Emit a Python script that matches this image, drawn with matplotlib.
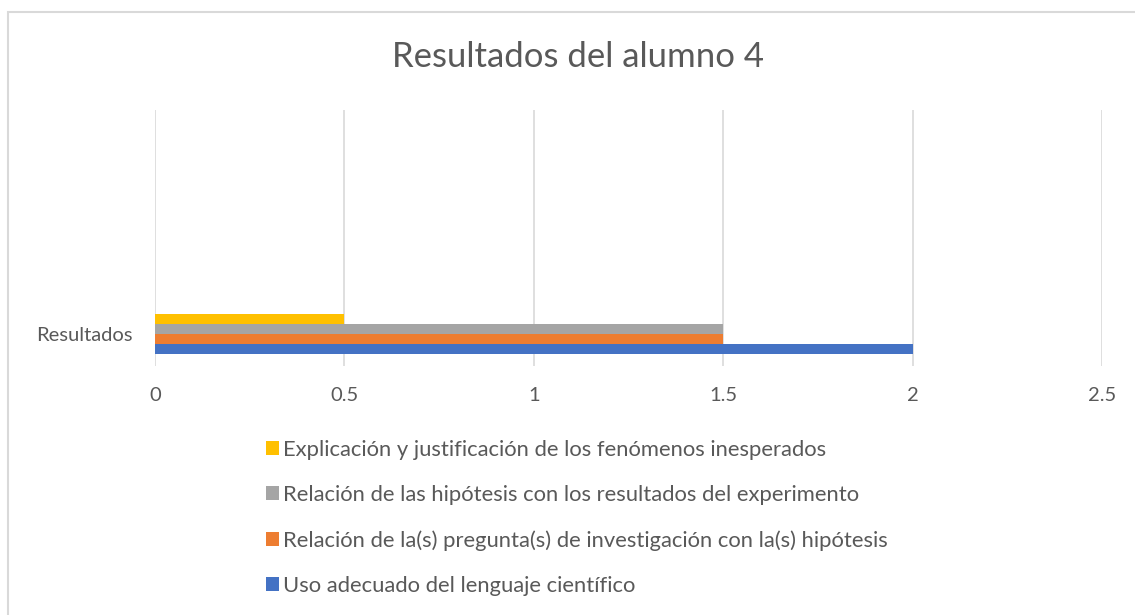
"""Resultados del alumno 4 - horizontal clustered bar chart."""

import matplotlib
matplotlib.use("Agg")
import matplotlib.pyplot as plt
from matplotlib.patches import Rectangle

# data
category = "Resultados"
series_names = [
    "Uso adecuado del lenguaje científico",
    "Relación de la(s) pregunta(s) de investigación con la(s) hipótesis",
    "Relación de las hipótesis con los resultados del experimento",
    "Explicación y justificación de los fenómenos inesperados",
]
series_values = [2.0, 1.5, 1.5, 0.5]
series_colors = ["#4472C4", "#ED7D31", "#A5A5A5", "#FFC000"]
x_ticks = [0, 0.5, 1, 1.5, 2, 2.5]
x_tick_labels = ["0", "0.5", "1", "1.5", "2", "2.5"]

TEXT = "#595959"
plt.rcParams["font.family"] = ["Lato", "DejaVu Sans"]

W, H = 1135, 615
fig = plt.figure(figsize=(W / 100, H / 100), dpi=100)

# chart border (only top / left visible in the crop)
fig.patches.append(Rectangle((8 / W, -0.1), 1.2, 1.1 - 12 / H,
                             transform=fig.transFigure, fill=False,
                             edgecolor="#d9d9d9", linewidth=1.5))

ax = fig.add_axes([155 / W, 1 - 366 / H, (1102 - 155) / W, (366 - 110) / H])

bar_h = 0.2
bars = []
for i, (name, v, c) in enumerate(zip(series_names, series_values, series_colors)):
    y = (i - 1.5) * bar_h
    b = ax.barh(y, v, height=bar_h, color=c, label=name, zorder=3)
    bars.append(b)

ax.set_xlim(0, 2.5)
ax.set_ylim(-0.64, 4.48)
ax.set_xticks(x_ticks)
ax.set_xticklabels(x_tick_labels)
ax.set_yticks([0])
ax.set_yticklabels([category])
ax.tick_params(axis="both", length=0, labelsize=14.5, labelcolor=TEXT)
ax.tick_params(axis="x", pad=15)
ax.tick_params(axis="y", pad=16)
ax.grid(True, axis="x", color="#d9d9d9", linewidth=1.2, zorder=0)
for s in ax.spines.values():
    s.set_visible(False)

fig.text(578 / W, 1 - 57 / H, "Resultados del alumno 4", ha="center",
         va="center", fontsize=25, color=TEXT)

fig.legend(bars[::-1], series_names[::-1], loc="upper left",
           bbox_to_anchor=(257 / W, 1 - 431 / H), frameon=False,
           fontsize=15.8, labelcolor=TEXT, handlelength=0.6,
           handleheight=0.6, handletextpad=0.2, labelspacing=1.15,
           borderaxespad=0)

fig.savefig("out.png", dpi=100)
